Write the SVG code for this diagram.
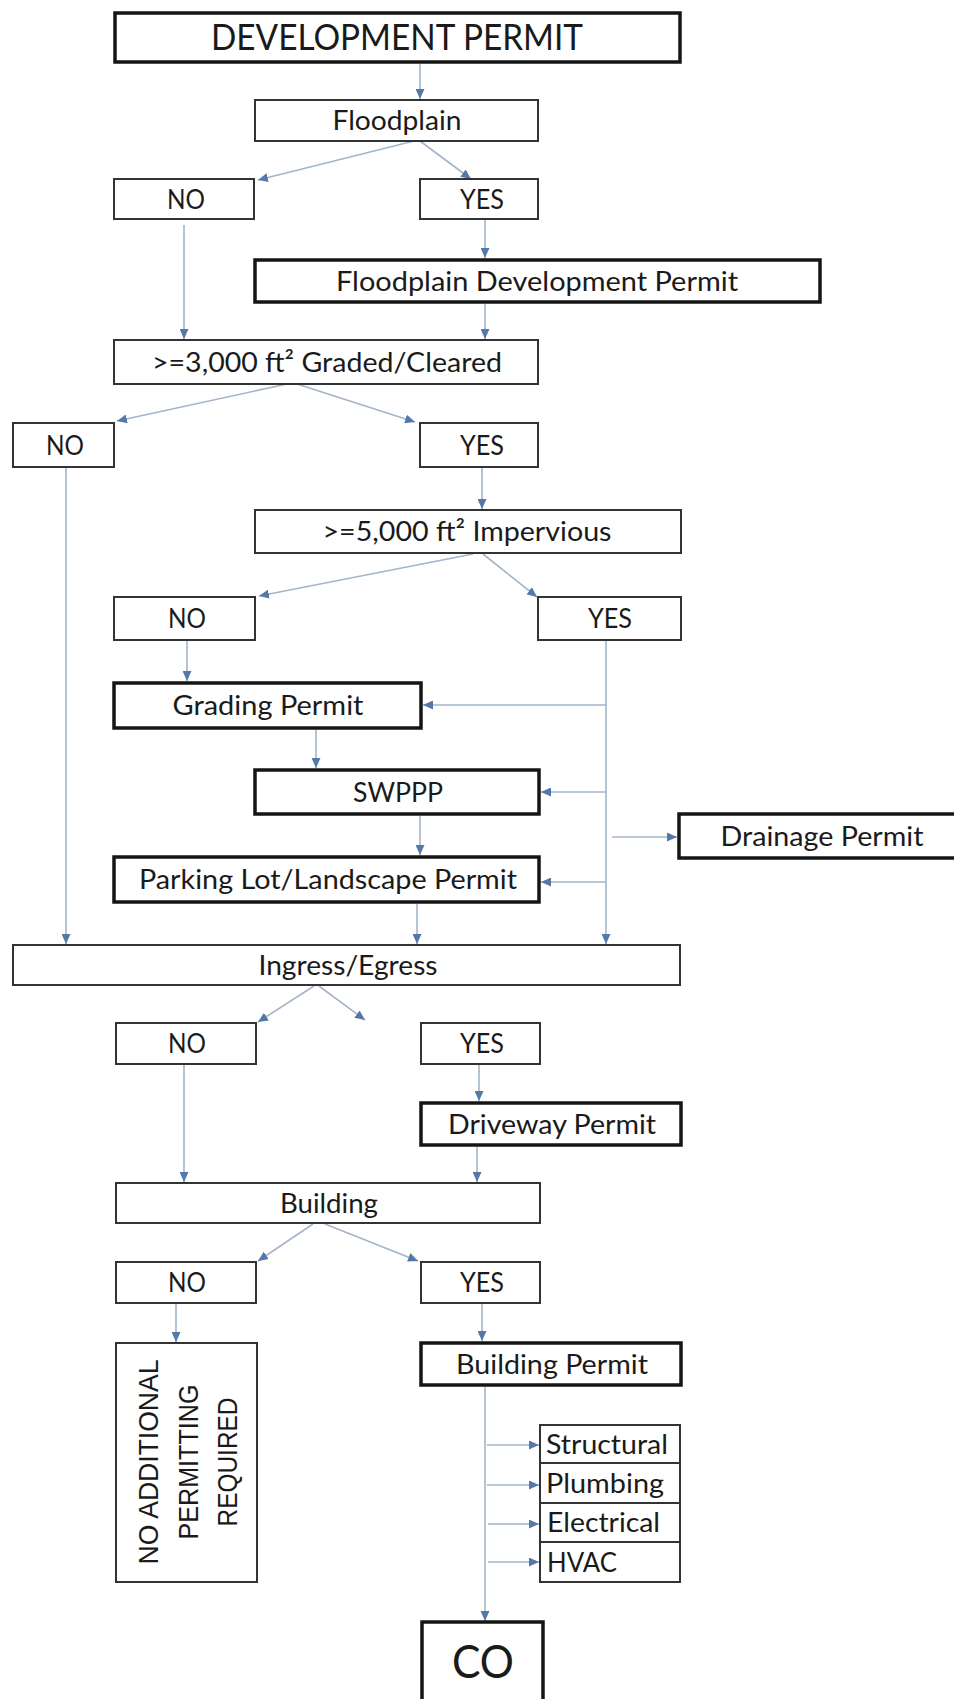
<svg xmlns="http://www.w3.org/2000/svg" width="954" height="1699" viewBox="0 0 954 1699">
<style>
.thin{fill:#fff;stroke:#333;stroke-width:2}
.thick{fill:#fff;stroke:#151515;stroke-width:3.5}
.t{font-family:Lato,"Liberation Sans",sans-serif;font-size:27px;fill:#1a1a1a;text-anchor:middle}
.tl{font-family:Lato,"Liberation Sans",sans-serif;font-size:27px;fill:#1a1a1a;text-anchor:start}
.big{font-size:36px}
.co{font-size:46px}
.r{font-family:"Liberation Sans",Arial,sans-serif;font-size:28px;fill:#1a1a1a;text-anchor:middle}
.c{fill:none;stroke:#a3b5cb;stroke-width:1.6;marker-end:url(#ah)}
</style>
<defs>
<marker id="ah" markerUnits="userSpaceOnUse" markerWidth="10" markerHeight="9" refX="10" refY="4.5" orient="auto">
<path d="M0,0 L10,4.5 L0,9 z" fill="#5479a8"/>
</marker>
</defs>
<rect width="954" height="1699" fill="#fff"/>

<g id="connectors">
<line class="c" x1="420" y1="64" x2="420" y2="99"/>
<line class="c" x1="414" y1="141" x2="258" y2="180"/>
<line class="c" x1="420" y1="141" x2="471" y2="179"/>
<line class="c" x1="485" y1="220" x2="485" y2="258"/>
<line class="c" x1="184" y1="225" x2="184" y2="339"/>
<line class="c" x1="485" y1="304" x2="485" y2="339"/>
<line class="c" x1="287" y1="384" x2="117" y2="421"/>
<line class="c" x1="297" y1="384" x2="415" y2="422"/>
<line class="c" x1="482" y1="467" x2="482" y2="509"/>
<line class="c" x1="473" y1="554" x2="259" y2="596"/>
<line class="c" x1="483" y1="554" x2="537" y2="597"/>
<line class="c" x1="187" y1="641" x2="187" y2="681"/>
<line class="c" x1="606" y1="640" x2="606" y2="944"/>
<line class="c" x1="606" y1="705" x2="423" y2="705"/>
<line class="c" x1="316" y1="730" x2="316" y2="768"/>
<line class="c" x1="606" y1="792" x2="541" y2="792"/>
<line class="c" x1="612" y1="837" x2="677" y2="837"/>
<line class="c" x1="420" y1="816" x2="420" y2="855"/>
<line class="c" x1="606" y1="882" x2="541" y2="882"/>
<line class="c" x1="417" y1="904" x2="417" y2="944"/>
<line class="c" x1="66" y1="467" x2="66" y2="944"/>
<line class="c" x1="314" y1="986" x2="258" y2="1022"/>
<line class="c" x1="319" y1="986" x2="365" y2="1020"/>
<line class="c" x1="479" y1="1065" x2="479" y2="1101"/>
<line class="c" x1="184" y1="1065" x2="184" y2="1182"/>
<line class="c" x1="477" y1="1147" x2="477" y2="1182"/>
<line class="c" x1="313" y1="1224" x2="258" y2="1261"/>
<line class="c" x1="325" y1="1224" x2="418" y2="1261"/>
<line class="c" x1="176" y1="1304" x2="176" y2="1342"/>
<line class="c" x1="482" y1="1304" x2="482" y2="1341"/>
<line class="c" x1="485" y1="1387" x2="485" y2="1621"/>
<line class="c" x1="487" y1="1445" x2="539" y2="1445"/>
<line class="c" x1="487" y1="1485" x2="539" y2="1485"/>
<line class="c" x1="488" y1="1524" x2="539" y2="1524"/>
<line class="c" x1="488" y1="1562" x2="539" y2="1562"/>
</g>

<g id="development-permit">
<rect class="thick" x="115" y="13" width="565" height="49"/>
<text class="t big" x="397" y="50" textLength="372" lengthAdjust="spacingAndGlyphs">DEVELOPMENT PERMIT</text>
</g>
<g id="floodplain">
<rect class="thin" x="255" y="100" width="283" height="41"/>
<text class="t" x="397" y="130" textLength="129" lengthAdjust="spacingAndGlyphs">Floodplain</text>
</g>
<g id="no1">
<rect class="thin" x="114" y="179" width="140" height="40"/>
<text class="t" x="186" y="208.5" textLength="38" lengthAdjust="spacingAndGlyphs">NO</text>
</g>
<g id="yes1">
<rect class="thin" x="420" y="179" width="118" height="40"/>
<text class="t" x="482" y="208.5" textLength="44" lengthAdjust="spacingAndGlyphs">YES</text>
</g>
<g id="floodplain-development-permit">
<rect class="thick" x="255" y="260" width="565" height="42"/>
<text class="t" x="537" y="290.5" textLength="402" lengthAdjust="spacingAndGlyphs">Floodplain Development Permit</text>
</g>
<g id="graded-cleared">
<rect class="thin" x="114" y="340" width="424" height="44"/>
<text class="t" x="327" y="371.5" textLength="350" lengthAdjust="spacingAndGlyphs">&gt;=3,000 ft² Graded/Cleared</text>
</g>
<g id="no2">
<rect class="thin" x="13" y="423" width="101" height="44"/>
<text class="t" x="65" y="454.5" textLength="38" lengthAdjust="spacingAndGlyphs">NO</text>
</g>
<g id="yes2">
<rect class="thin" x="420" y="423" width="118" height="44"/>
<text class="t" x="482" y="454.5" textLength="44" lengthAdjust="spacingAndGlyphs">YES</text>
</g>
<g id="impervious">
<rect class="thin" x="255" y="510" width="426" height="43"/>
<text class="t" x="467" y="541" textLength="289" lengthAdjust="spacingAndGlyphs">&gt;=5,000 ft² Impervious</text>
</g>
<g id="no3">
<rect class="thin" x="114" y="597" width="141" height="43"/>
<text class="t" x="187" y="628" textLength="38" lengthAdjust="spacingAndGlyphs">NO</text>
</g>
<g id="yes3">
<rect class="thin" x="538" y="597" width="143" height="43"/>
<text class="t" x="610" y="628" textLength="44" lengthAdjust="spacingAndGlyphs">YES</text>
</g>
<g id="grading-permit">
<rect class="thick" x="114" y="683" width="307" height="45"/>
<text class="t" x="268" y="715" textLength="191" lengthAdjust="spacingAndGlyphs">Grading Permit</text>
</g>
<g id="swppp">
<rect class="thick" x="255" y="770" width="284" height="44"/>
<text class="t" x="398" y="801.5" textLength="90" lengthAdjust="spacingAndGlyphs">SWPPP</text>
</g>
<g id="drainage-permit">
<rect class="thick" x="679" y="814" width="280" height="44"/>
<text class="t" x="822" y="845.5" textLength="203" lengthAdjust="spacingAndGlyphs">Drainage Permit</text>
</g>
<g id="parking-landscape-permit">
<rect class="thick" x="114" y="857" width="425" height="45"/>
<text class="t" x="328" y="889" textLength="378" lengthAdjust="spacingAndGlyphs">Parking Lot/Landscape Permit</text>
</g>
<g id="ingress-egress">
<rect class="thin" x="13" y="945" width="667" height="40"/>
<text class="t" x="348" y="974.5" textLength="179" lengthAdjust="spacingAndGlyphs">Ingress/Egress</text>
</g>
<g id="no4">
<rect class="thin" x="116" y="1023" width="140" height="41"/>
<text class="t" x="187" y="1053" textLength="38" lengthAdjust="spacingAndGlyphs">NO</text>
</g>
<g id="yes4">
<rect class="thin" x="421" y="1023" width="119" height="41"/>
<text class="t" x="482" y="1053" textLength="44" lengthAdjust="spacingAndGlyphs">YES</text>
</g>
<g id="driveway-permit">
<rect class="thick" x="421" y="1103" width="260" height="42"/>
<text class="t" x="552" y="1133.5" textLength="208" lengthAdjust="spacingAndGlyphs">Driveway Permit</text>
</g>
<g id="building">
<rect class="thin" x="116" y="1183" width="424" height="40"/>
<text class="t" x="329" y="1212.5" textLength="98" lengthAdjust="spacingAndGlyphs">Building</text>
</g>
<g id="no5">
<rect class="thin" x="116" y="1262" width="140" height="41"/>
<text class="t" x="187" y="1292" textLength="38" lengthAdjust="spacingAndGlyphs">NO</text>
</g>
<g id="yes5">
<rect class="thin" x="421" y="1262" width="119" height="41"/>
<text class="t" x="482" y="1292" textLength="44" lengthAdjust="spacingAndGlyphs">YES</text>
</g>
<g id="no-additional-permitting">
<rect class="thin" x="116" y="1343" width="141" height="239"/>
<text class="r" transform="translate(158,1462) rotate(-90)" textLength="205" lengthAdjust="spacingAndGlyphs">NO ADDITIONAL</text>
<text class="r" transform="translate(198,1462) rotate(-90)" textLength="155" lengthAdjust="spacingAndGlyphs">PERMITTING</text>
<text class="r" transform="translate(237,1462) rotate(-90)" textLength="129" lengthAdjust="spacingAndGlyphs">REQUIRED</text>
</g>
<g id="building-permit">
<rect class="thick" x="421" y="1343" width="260" height="42"/>
<text class="t" x="552" y="1373.5" textLength="192" lengthAdjust="spacingAndGlyphs">Building Permit</text>
</g>
<g id="structural">
<rect class="thin" x="540" y="1425" width="140" height="38"/>
<text class="tl" x="546" y="1453.5" textLength="122" lengthAdjust="spacingAndGlyphs">Structural</text>
</g>
<g id="plumbing">
<rect class="thin" x="540" y="1463" width="140" height="40"/>
<text class="tl" x="546" y="1492.5" textLength="118" lengthAdjust="spacingAndGlyphs">Plumbing</text>
</g>
<g id="electrical">
<rect class="thin" x="540" y="1503" width="140" height="39"/>
<text class="tl" x="547" y="1532" textLength="113" lengthAdjust="spacingAndGlyphs">Electrical</text>
</g>
<g id="hvac">
<rect class="thin" x="540" y="1542" width="140" height="40"/>
<text class="tl" x="547" y="1571.5" textLength="70" lengthAdjust="spacingAndGlyphs">HVAC</text>
</g>
<g id="co">
<rect class="thick" x="422" y="1622" width="121" height="90"/>
<text class="t co" x="483" y="1678" textLength="62" lengthAdjust="spacingAndGlyphs">CO</text>
</g>
</svg>
